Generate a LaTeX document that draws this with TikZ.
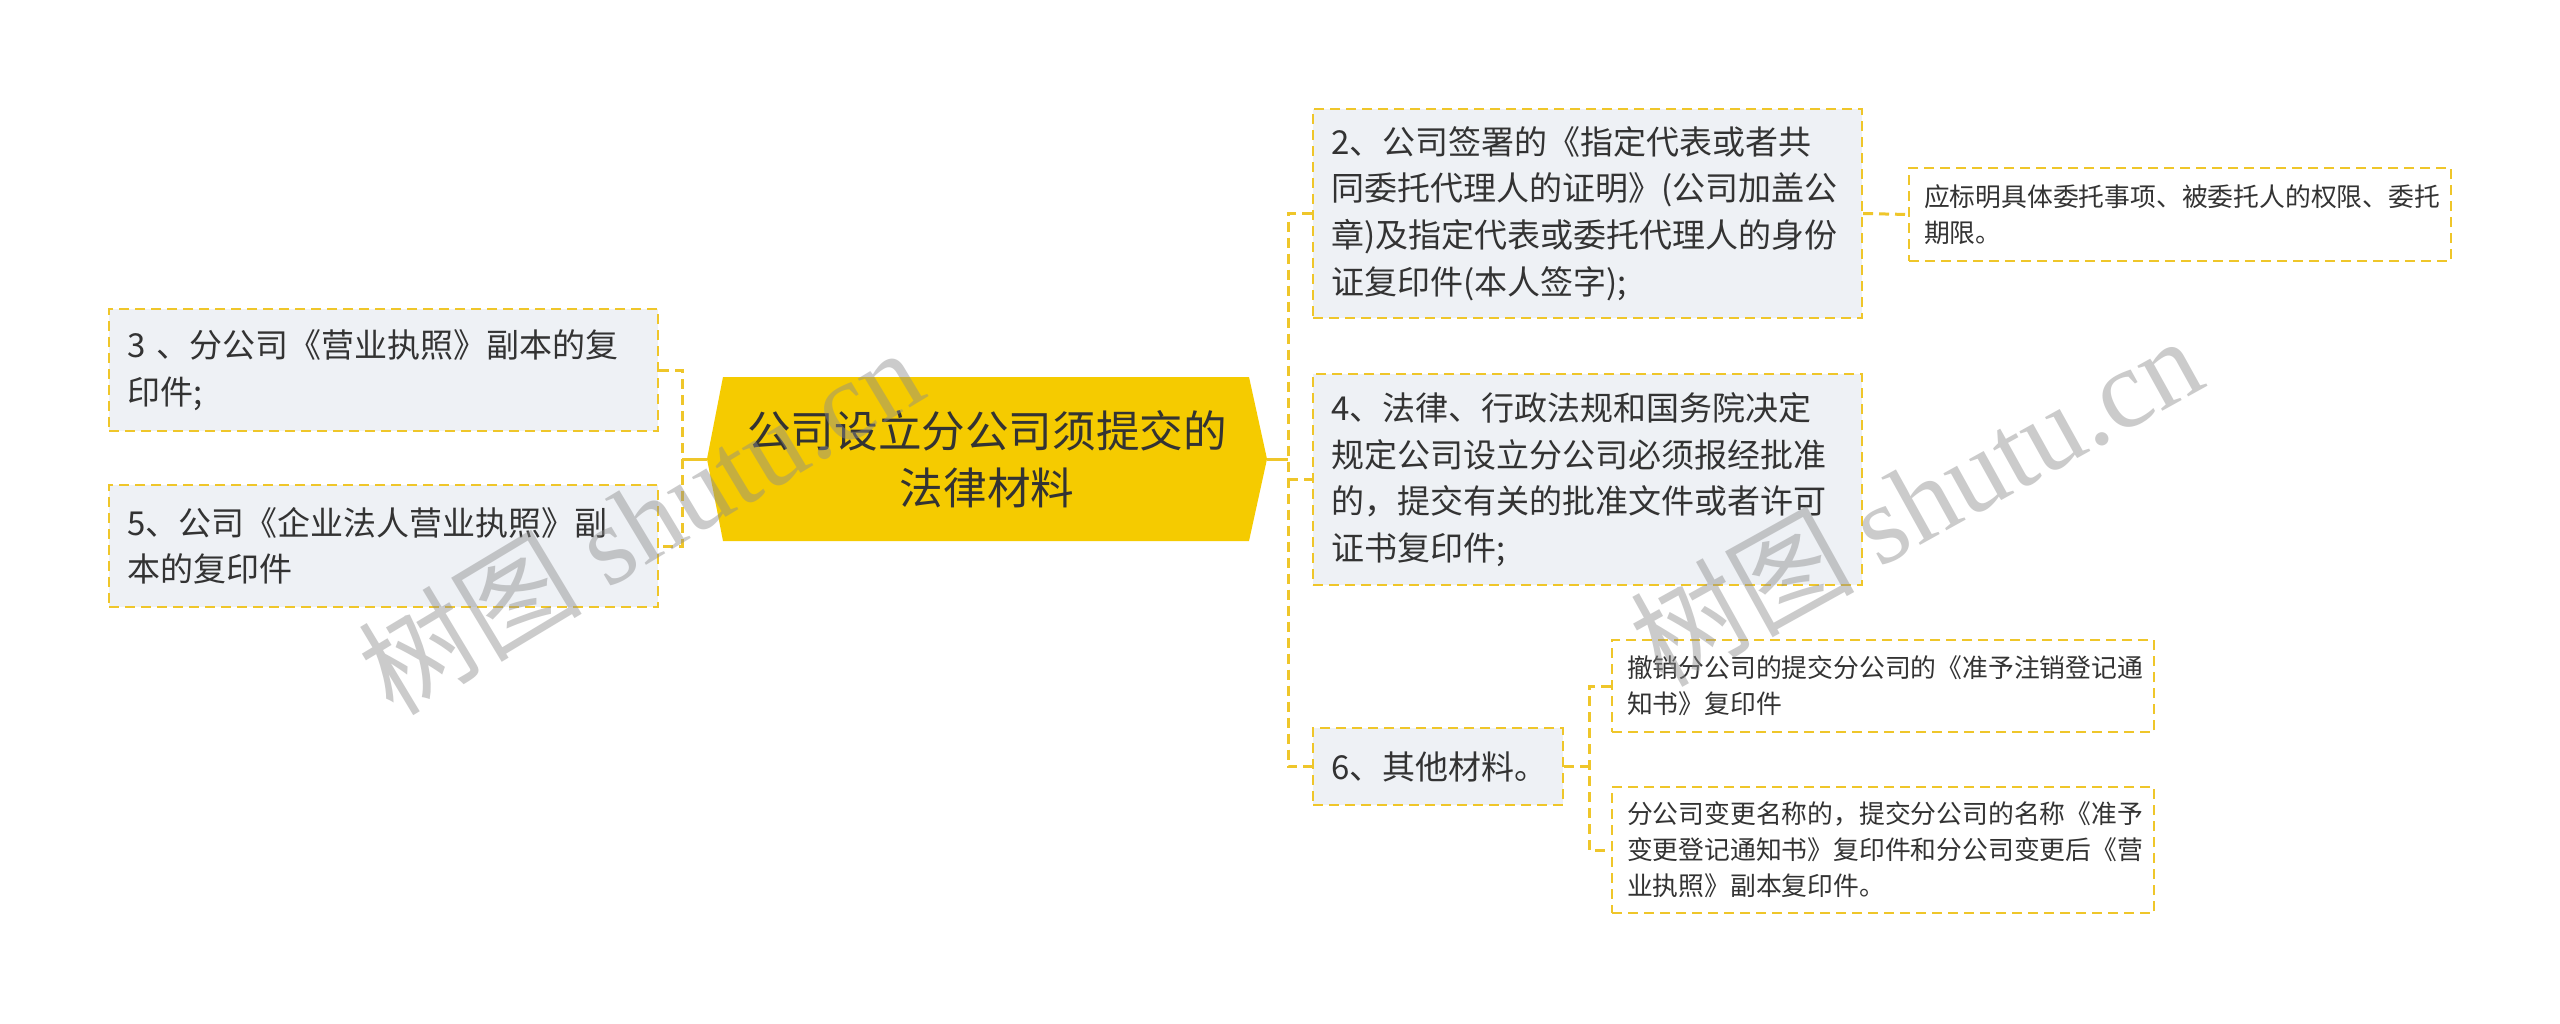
\documentclass[tikz,border=0pt]{standalone}
\usepackage{fontspec}
\setmainfont{Noto Sans CJK SC}
\newfontfamily\wmlat{Liberation Serif}
\definecolor{hexfill}{HTML}{F5CB00}
\definecolor{bord}{HTML}{EFC62A}
\definecolor{boxfill}{HTML}{EEF1F5}
\definecolor{txt}{HTML}{333333}
\begin{document}
\begin{tikzpicture}[x=0.5pt,y=-0.5pt,
  lvl/.style={rectangle, draw=bord, line width=1pt, dash pattern=on 5pt off 3pt,
    fill=boxfill, inner xsep=9pt, inner ysep=0pt, align=left, text=txt,
    font=\fontsize{16.5pt}{23.3pt}\selectfont},
  notebox/.style={rectangle, draw=bord, line width=1pt, dash pattern=on 5pt off 3pt,
    fill=white, inner xsep=7.5pt, inner ysep=0pt, align=left, text=txt,
    font=\fontsize{12.9pt}{18pt}\selectfont},
  conn/.style={draw=bord, line width=1.5pt, dash pattern=on 5pt off 3pt},
  solidconn/.style={draw=bord, line width=1.5pt},
  wm/.style={text=black!45, text opacity=0.45, font=\fontsize{56pt}{60pt}\selectfont}
]
\useasboundingbox (0,0) rectangle (2560,1023);
\fill[white] (0,0) rectangle (2560,1023);

% central hexagon
\fill[hexfill] (707,459) -- (723,377) -- (1249,377) -- (1267,459) -- (1249,541) -- (723,541) -- cycle;
\coordinate (cL) at (707,459);
\coordinate (cR) at (1267,459);
\node[align=center, text=txt, font=\fontsize{21.8pt}{28.6pt}\selectfont] (c) at (987,459)
  {公司设立分公司须提交的\\法律材料};

% left children
\node[lvl, text width=256.5pt, minimum height=61pt] (n3) at (383.5,370)
  {3 、分公司《营业执照》副本的复\\印件;};
\node[lvl, text width=256.5pt, minimum height=61pt] (n5) at (383.5,546)
  {5、公司《企业法人营业执照》副\\本的复印件};

% right children
\node[lvl, text width=256.5pt, minimum height=104.5pt] (n2) at (1587.5,213.5)
  {2、公司签署的《指定代表或者共\\同委托代理人的证明》(公司加盖公\\章)及指定代表或委托代理人的身份\\证复印件(本人签字);};
\node[lvl, text width=256.5pt, minimum height=105.5pt] (n4) at (1587.5,479.5)
  {4、法律、行政法规和国务院决定\\规定公司设立分公司必须报经批准\\的，提交有关的批准文件或者许可\\证书复印件;};
\node[lvl, text width=107pt, minimum height=38.5pt] (n6) at (1438,766.5)
  {6、其他材料。};

% notes
\node[notebox, text width=256pt, minimum height=46.5pt] (m1) at (2180,214.5)
  {应标明具体委托事项、被委托人的权限、委托\\期限。};
\node[notebox, text width=256pt, minimum height=46pt] (ma) at (1883,686)
  {撤销分公司的提交分公司的《准予注销登记通\\知书》复印件};
\node[notebox, text width=256pt, minimum height=63pt] (mb) at (1883,850)
  {分公司变更名称的，提交分公司的名称《准予\\变更登记通知书》复印件和分公司变更后《营\\业执照》副本复印件。};

% left connectors
\coordinate (lb) at (682,459);
\draw[solidconn] (cL) -- (lb);
\draw[conn] (n3.east) -| (lb) |- (n5.east);

% right connectors
\coordinate (rb) at (1288,459);
\draw[solidconn] (cR) -- (rb);
\draw[conn] (n2.west) -| (rb) |- (n6.west);
\draw[conn] (rb |- n4.west) -- (n4.west);

% note connectors
\draw[conn] (n2.east) -- (m1.west);
\coordinate (sb) at (1589,766.5);
\draw[conn] (n6.east) -- (sb);
\draw[conn] (ma.west) -| (sb) |- (mb.west);

% watermarks
\node[wm, rotate=31] (w1) at (640,520) {树图 {\wmlat shutu.cn}};
\node[wm, rotate=29] (w2) at (1915,500) {树图 {\wmlat shutu.cn}};
\end{tikzpicture}
\end{document}
